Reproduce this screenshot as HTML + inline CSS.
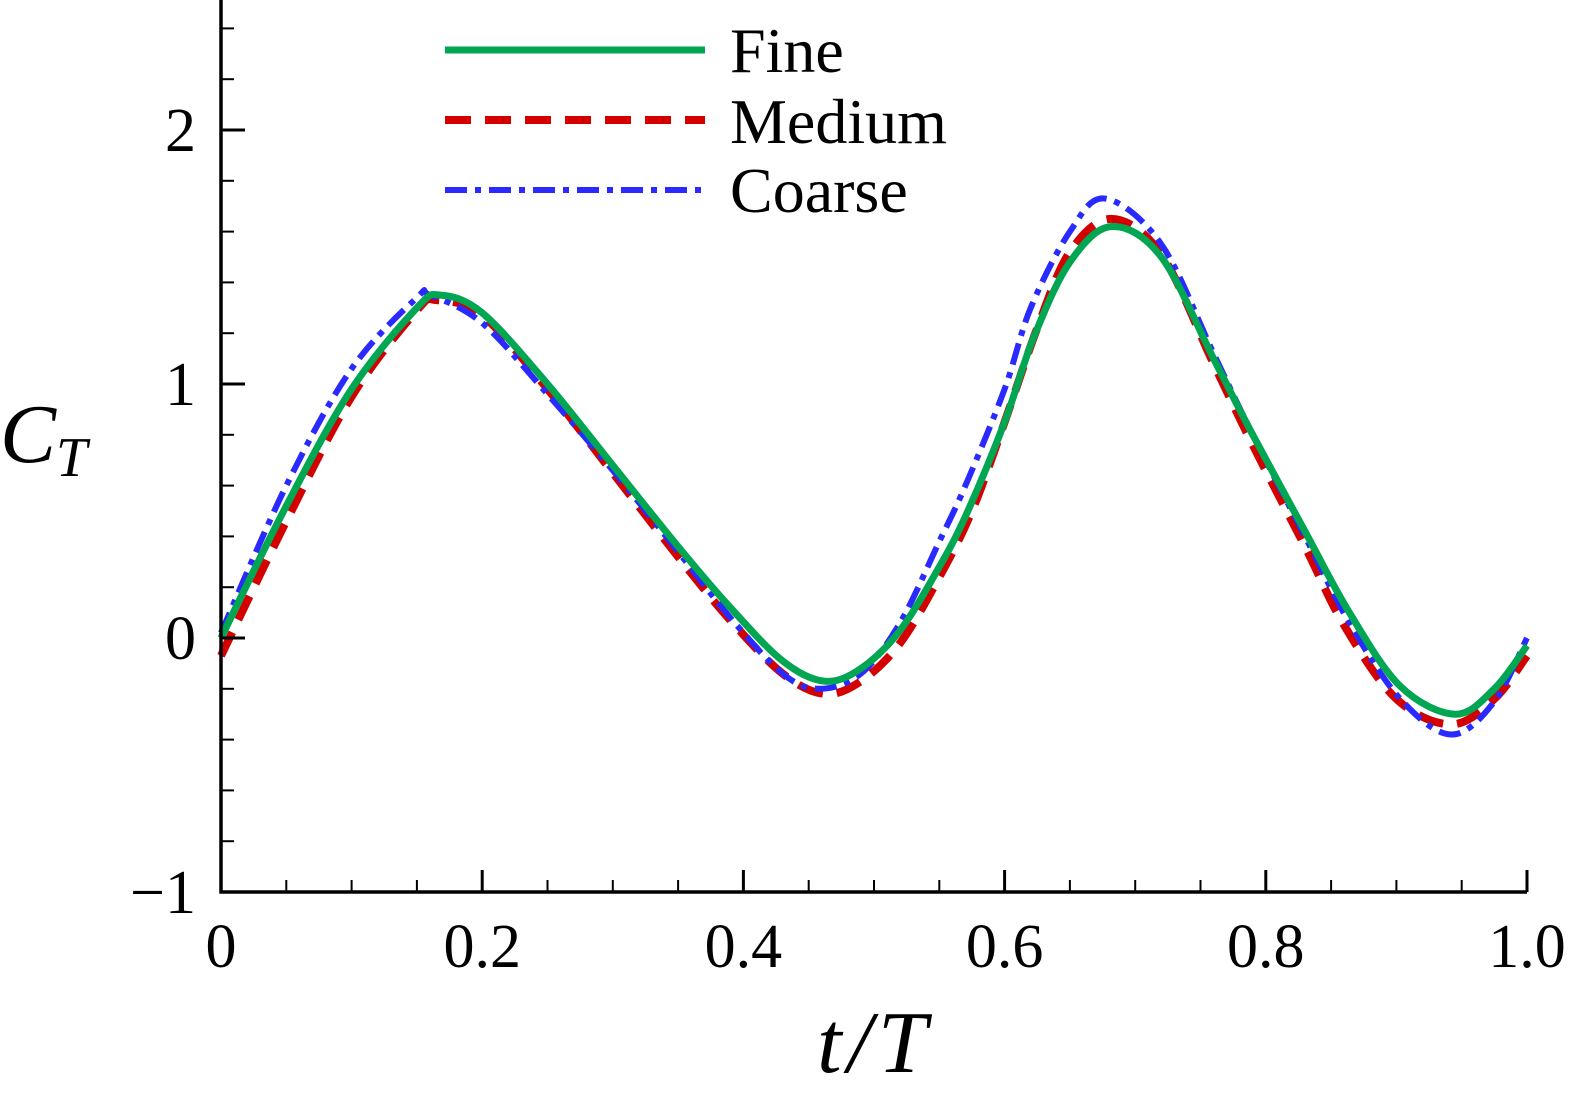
<!DOCTYPE html>
<html><head><meta charset="utf-8"><style>
html,body{margin:0;padding:0;background:#fff;}
svg{display:block;}
text{font-family:"Liberation Serif",serif;fill:#000;}
</style></head><body>
<svg id="chart" width="1591" height="1100">
<g id="series"></g>
<g id="axes"></g>
<g>
<line x1="445" y1="50" x2="705" y2="50" stroke="#00a651" stroke-width="7"/>
<text x="730" y="72" font-size="64">Fine</text>
<line x1="445" y1="120" x2="705" y2="120" stroke="#d40000" stroke-width="8" stroke-dasharray="26,14"/>
<text x="730" y="143" font-size="64">Medium</text>
<line x1="445" y1="190" x2="705" y2="190" stroke="#2a2aff" stroke-width="6" stroke-dasharray="22,8,6,8"/>
<text x="730" y="212" font-size="64">Coarse</text>
</g>
<text x="0" y="462" font-size="84" font-style="italic">C<tspan font-size="56" dy="14">T</tspan></text>
<text x="875" y="1072" font-size="88" font-style="italic" text-anchor="middle" letter-spacing="6">t/T</text>
</svg>
<script>
const fineT = [0,0.05,0.1,0.15,0.168,0.2,0.25,0.3,0.35,0.39,0.43,0.462,0.49,0.52,0.55,0.571,0.6,0.622,0.65,0.682,0.72,0.76,0.79,0.83,0.864,0.903,0.945,0.975,1.0];
const fineV = [0,0.52,0.98,1.3,1.35,1.28,1.0,0.68,0.36,0.12,-0.09,-0.17,-0.12,0.03,0.28,0.49,0.85,1.18,1.48,1.62,1.5,1.1,0.8,0.42,0.1,-0.19,-0.30,-0.2,-0.03];
const mediumT = [0,0.05,0.1,0.15,0.165,0.2,0.25,0.3,0.35,0.39,0.43,0.462,0.49,0.52,0.55,0.575,0.6,0.625,0.65,0.682,0.72,0.76,0.79,0.83,0.86,0.9,0.942,0.975,1.0];
const mediumV = [-0.07,0.46,0.95,1.29,1.33,1.27,0.98,0.65,0.32,0.07,-0.14,-0.22,-0.17,-0.02,0.24,0.5,0.85,1.22,1.52,1.65,1.51,1.08,0.76,0.36,0.05,-0.24,-0.34,-0.24,-0.07];
const coarseT = [0,0.05,0.1,0.15,0.16,0.2,0.25,0.3,0.35,0.39,0.43,0.458,0.49,0.52,0.55,0.57,0.6,0.62,0.65,0.677,0.72,0.76,0.79,0.83,0.864,0.903,0.942,0.975,1.0];
const coarseV = [0.02,0.6,1.06,1.34,1.35,1.24,0.96,0.66,0.34,0.08,-0.14,-0.2,-0.14,0.06,0.38,0.6,0.98,1.3,1.6,1.73,1.55,1.12,0.8,0.4,0.06,-0.24,-0.38,-0.25,0.0];
const xTickLabels = ["0","0.2","0.4","0.6","0.8","1.0"];
const yTickLabels = ["\u22121","0","1","2"];

const NS="http://www.w3.org/2000/svg";
const X0=221,X1=1527,Y0=638,YS=254;
function sx(t){return X0+(X1-X0)*t;}
function sy(v){return Y0-YS*v;}
function mk(tag,attrs,parent){const e=document.createElementNS(NS,tag);for(const k in attrs)e.setAttribute(k,attrs[k]);parent.appendChild(e);return e;}
function pathFrom(T,V){
  const p=T.map((t,i)=>[sx(t),sy(V[i])]);
  let d="M"+p[0][0]+","+p[0][1];
  for(let i=0;i<p.length-1;i++){
    const p0=p[Math.max(i-1,0)],p1=p[i],p2=p[i+1],p3=p[Math.min(i+2,p.length-1)];
    const c1=[p1[0]+(p2[0]-p0[0])/6,p1[1]+(p2[1]-p0[1])/6];
    const c2=[p2[0]-(p3[0]-p1[0])/6,p2[1]-(p3[1]-p1[1])/6];
    d+=" C"+c1[0]+","+c1[1]+" "+c2[0]+","+c2[1]+" "+p2[0]+","+p2[1];
  }
  return d;
}
const sg=document.getElementById("series");
let e;
e=mk("path",{d:pathFrom(mediumT,mediumV),fill:"none",stroke:"#d40000","stroke-width":8,"stroke-dasharray":"26,14"},sg);


e=mk("path",{d:pathFrom(coarseT,coarseV),fill:"none",stroke:"#2a2aff","stroke-width":6,"stroke-dasharray":"22,8,6,8"},sg);


e=mk("path",{d:pathFrom(fineT,fineV),fill:"none",stroke:"#00a651","stroke-width":7},sg);



const ax=document.getElementById("axes");
e=mk("line",{x1:X0,y1:0,x2:X0,y2:sy(-1)+1.5,stroke:"#000","stroke-width":3.5},ax);


e=mk("line",{x1:X0-1.5,y1:sy(-1),x2:X1,y2:sy(-1),stroke:"#000","stroke-width":3.5},ax);


for(let i=0;i<=20;i++){
  const t=i/20,major=i%4===0,x=sx(t);
  e=mk("line",{x1:x,y1:sy(-1),x2:x,y2:sy(-1)-(major?22:12),stroke:"#000","stroke-width":major?3:2},ax);
  
  
}
xTickLabels.forEach((s,i)=>{
  e=mk("text",{x:sx(i*0.2),y:967,"font-size":62,"text-anchor":"middle"},ax);e.textContent=s;
  
  
});
for(let i=-5;i<=12;i++){
  const v=i/5,major=i%5===0,y=sy(v);
  e=mk("line",{x1:X0,y1:y,x2:X0+(major?24:13),y2:y,stroke:"#000","stroke-width":major?3:2},ax);
  
  
}
yTickLabels.forEach((s,i)=>{
  e=mk("text",{x:196,y:sy(i-1)+21,"font-size":62,"text-anchor":"end"},ax);e.textContent=s;
  
  
});
</script>
</body></html>
